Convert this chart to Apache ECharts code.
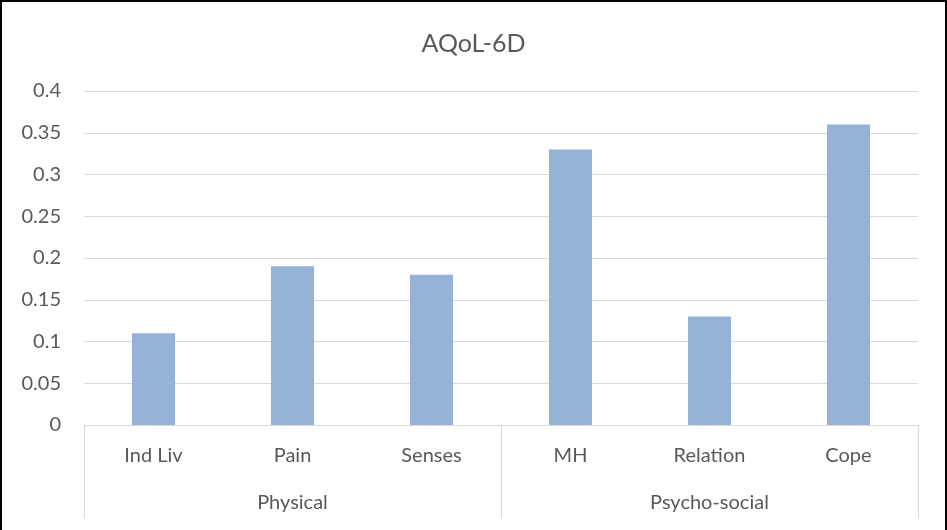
<!DOCTYPE html>
<html>
<head>
<meta charset="utf-8">
<script src="https://cdn.jsdelivr.net/npm/echarts@6/dist/echarts.min.js"></script>
<style>
html,body{margin:0;padding:0;background:#fff;overflow:hidden;}
#chart{position:absolute;left:0;top:0;width:947px;height:530px;}
#frame{position:absolute;left:0;top:0;width:943px;height:540px;border:2px solid #000;pointer-events:none;}
</style>
</head>
<body>
<div id="chart"></div>
<div id="frame"></div>
<script>
const titleText = 'AQoL-6D';
const categories = ['Ind Liv', 'Pain', 'Senses', 'MH', 'Relation', 'Cope'];
const groups = ['Physical', 'Psycho-social'];
const values = [0.11, 0.19, 0.18, 0.33, 0.13, 0.36];
const yTicks = [0, 0.05, 0.1, 0.15, 0.2, 0.25, 0.3, 0.35, 0.4];

const textColor = '#595959';
const font = 'Lato';
const chart = echarts.init(document.getElementById('chart'));
chart.setOption({
  animation: false,
  title: {
    text: titleText, left: 'center', top: 26,
    textStyle: {fontFamily: font, fontSize: 25, fontWeight: 'normal', color: textColor}
  },
  grid: {left: 84, right: 29, top: 91, bottom: 105, containLabel: false},
  xAxis: [
    {
      type: 'category', data: categories, position: 'bottom',
      axisLine: {show: true, lineStyle: {color: '#d9d9d9', width: 1}},
      axisTick: {show: false},
      axisLabel: {fontFamily: font, fontSize: 20, color: textColor, margin: 21}
    },
    {
      type: 'category', data: groups, position: 'bottom', boundaryGap: true,
      axisLine: {show: false},
      axisTick: {show: true, alignWithLabel: false, length: 93, lineStyle: {color: '#d9d9d9', width: 1}},
      axisLabel: {fontFamily: font, fontSize: 20, color: textColor, margin: 68}
    }
  ],
  yAxis: {
    type: 'value', min: yTicks[0], max: yTicks[yTicks.length - 1], interval: 0.05,
    axisLine: {show: false}, axisTick: {show: false},
    splitLine: {lineStyle: {color: '#d9d9d9', width: 1}},
    axisLabel: {fontFamily: font, fontSize: 20, color: textColor, margin: 23,
      formatter: v => String(+v.toFixed(2))}
  },
  series: [{
    type: 'bar', xAxisIndex: 0, data: values, barWidth: '31%',
    itemStyle: {color: '#95b3d7'}
  }]
});
</script>
</body>
</html>
